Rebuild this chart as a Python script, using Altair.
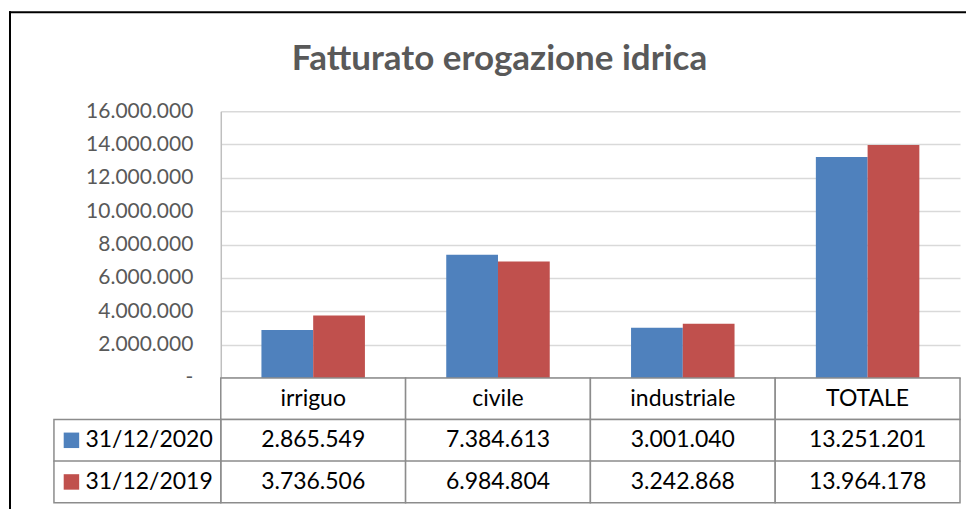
import altair as alt
import pandas as pd

categories = ["irriguo", "civile", "industriale", "TOTALE"]
series = ["31/12/2020", "31/12/2019"]
values_2020 = [2865549, 7384613, 3001040, 13251201]
values_2019 = [3736506, 6984804, 3242868, 13964178]
colors = ["#4F81BD", "#C0504D"]
y_ticks = [0, 2000000, 4000000, 6000000, 8000000, 10000000, 12000000, 14000000, 16000000]
title_text = "Fatturato erogazione idrica"
header_row = "intestazione"

FONT = "Lato"
GRAY = "#595959"
BORDER = "#8C8C8C"


def it_fmt(v):
    return f"{v:,}".replace(",", ".")


rows = []
for s, vals in zip(series, [values_2020, values_2019]):
    for c, v in zip(categories, vals):
        rows.append({"categoria": c, "serie": s, "riga": s, "valore": v, "testo": it_fmt(v)})
df = pd.DataFrame(rows)

table_rows = [{"categoria": c, "riga": header_row, "testo": c} for c in categories]
table_rows += [{"categoria": r["categoria"], "riga": r["riga"], "testo": r["testo"]} for r in rows]
df_table = pd.DataFrame(table_rows)

df_lab = pd.DataFrame({"col": ["etichetta"] * len(series), "riga": series, "serie": series})
df_one = pd.DataFrame({"k": [0]})

color_scale = alt.Scale(domain=series, range=colors)
row_order = [header_row] + series

bars = alt.Chart(df).mark_bar().encode(
    x=alt.X("categoria:N", sort=categories,
            scale=alt.Scale(paddingInner=0.44, paddingOuter=0.22),
            axis=alt.Axis(title=None, labels=False, ticks=False,
                          domainColor="#868686", domainWidth=1.5,
                          minExtent=0, maxExtent=0)),
    xOffset=alt.XOffset("serie:N", sort=series),
    y=alt.Y("valore:Q", scale=alt.Scale(domain=[0, 16000000]),
            axis=alt.Axis(values=y_ticks, title=None,
                          labelExpr="datum.value == 0 ? '-\u00a0\u00a0' : replace(format(datum.value, ',.0f'), regexp(',', 'g'), '.')",
                          labelFont=FONT, labelFontSize=21, labelColor=GRAY,
                          labelPadding=28, ticks=False,
                          domainColor="#BFBFBF", domainWidth=1.5,
                          gridColor="#D9D9D9", gridWidth=1.5)),
    color=alt.Color("serie:N", scale=color_scale, legend=None),
)

# outer frame of the chart (decoration, as in the spreadsheet chart object)
frame_top = alt.Chart(df_one).mark_rule(color="black", strokeWidth=2).encode(
    x=alt.value(-212), x2=alt.value(746), y=alt.value(-99))
frame_left = alt.Chart(df_one).mark_rule(color="black", strokeWidth=2).encode(
    x=alt.value(-211), y=alt.value(-100), y2=alt.value(267))

top = alt.layer(bars, frame_top, frame_left).properties(width=740, height=267)

x_tab = alt.X("categoria:N", sort=categories,
              scale=alt.Scale(paddingInner=0, paddingOuter=0), axis=None)
y_tab = alt.Y("riga:N", sort=row_order,
              scale=alt.Scale(domain=row_order, paddingInner=0, paddingOuter=0), axis=None)

cells = alt.Chart(df_table).mark_rect(fill="white", stroke=BORDER, strokeWidth=1.5).encode(
    x=x_tab, y=y_tab)
cell_text = alt.Chart(df_table).mark_text(font=FONT, fontSize=23, color="black").encode(
    x=x_tab, y=y_tab, text="testo:N")

x_lab = alt.X("col:N", scale=alt.Scale(domain=["etichetta"], range=[-167, 0],
                                       paddingInner=0, paddingOuter=0), axis=None)

lab_cells = alt.Chart(df_lab).mark_rect(fill="white", stroke=BORDER, strokeWidth=1.5).encode(
    x=x_lab, y=y_tab)
lab_text = alt.Chart(df_lab).mark_text(font=FONT, fontSize=23, color="black",
                                       align="left", dx=-52).encode(
    x=x_lab, y=y_tab, text="serie:N")
lab_sq = alt.Chart(df_lab).mark_square(size=240, opacity=1, xOffset=-66).encode(
    x=x_lab, y=y_tab,
    color=alt.Color("serie:N", scale=color_scale, legend=None))
frame_left_tab = alt.Chart(df_one).mark_rule(color="black", strokeWidth=2).encode(
    x=alt.value(-211), y=alt.value(0), y2=alt.value(135))

table = alt.layer(cells, cell_text, lab_cells, lab_text, lab_sq, frame_left_tab).resolve_scale(
    x="independent").properties(width=740, height=125)

chart = alt.vconcat(top, table, spacing=0, bounds="flush").properties(
    title=alt.TitleParams(title_text, font=FONT, fontSize=35, fontWeight="bold",
                          color=GRAY, anchor="middle", offset=-67, dx=12),
    padding={"left": 0, "top": 2, "right": 0, "bottom": 0},
).configure_view(stroke=None)

chart.save("out.html", embed_options={"renderer": "svg", "actions": False})
